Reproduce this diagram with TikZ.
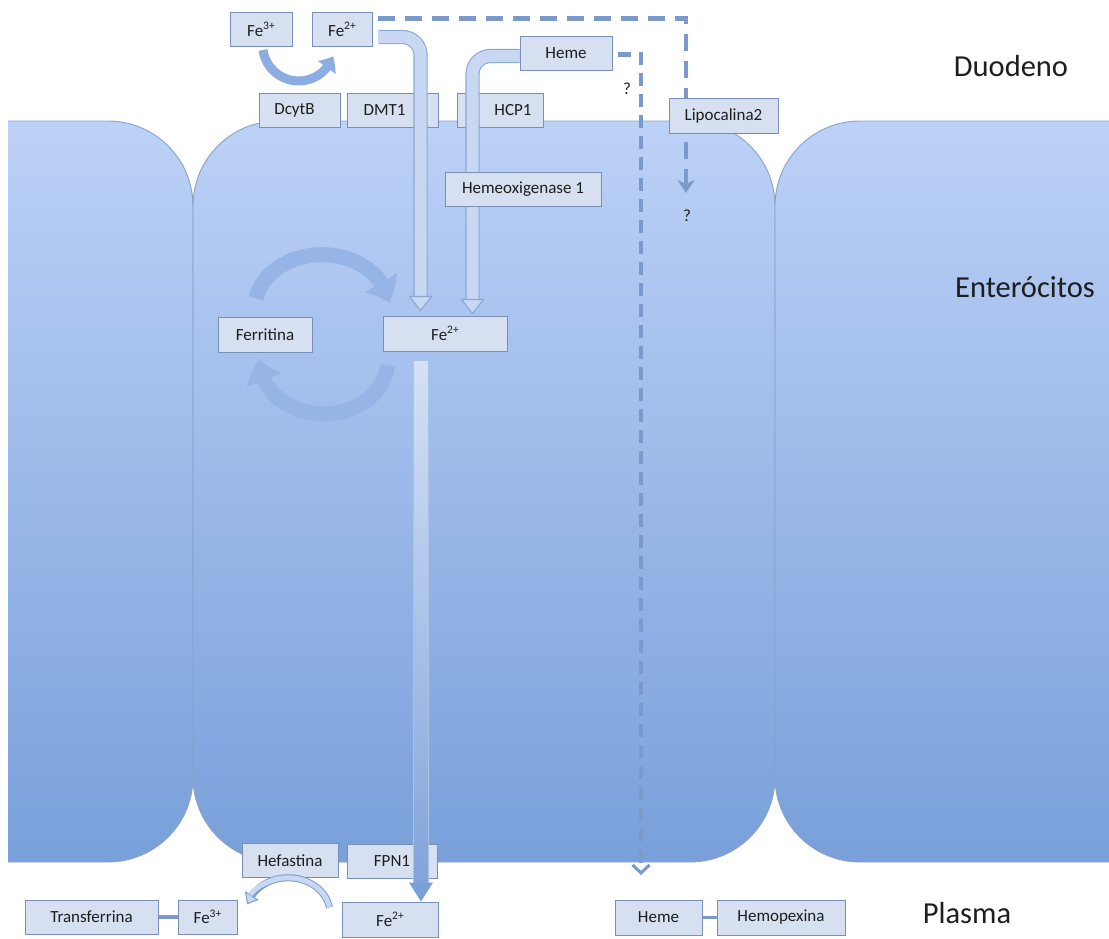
\documentclass[tikz,border=0pt]{standalone}
\usepackage{fontspec}
\setmainfont{Carlito}
\usetikzlibrary{arrows.meta,calc,bending}

\definecolor{cellTop}{HTML}{BCD1F7}
\definecolor{cellBottom}{HTML}{79A0DA}
\definecolor{cellEdge}{HTML}{8BA1C7}
\definecolor{boxFill}{HTML}{D6E0F0}
\definecolor{boxEdge}{HTML}{7890B8}
\definecolor{pipeEdge}{HTML}{8AA8D6}
\definecolor{pipeFill}{HTML}{C8D8F3}
\definecolor{dashBlue}{HTML}{7C99CB}
\definecolor{cycleBlue}{HTML}{96B4E6}
\definecolor{redoxBlue}{HTML}{8CADE2}
\definecolor{exportTop}{HTML}{D4E1F6}
\definecolor{exportBottom}{HTML}{82A4DA}
\definecolor{exportHead}{HTML}{7A9ED7}
\definecolor{hefEdge}{HTML}{7F9CCB}
\definecolor{hefFill}{HTML}{C9D8F2}
\definecolor{inkGray}{HTML}{1E1E1E}

% small raised charge label, e.g. Fe^{2+}
\newcommand\ionsup[1]{\raisebox{0.38em}{\fontsize{11.5}{11}\selectfont #1}}

\tikzset{
  cellshape/.style={top color=cellTop, bottom color=cellBottom, draw=cellEdge,
    line width=0.9pt, rounded corners=85pt},
  tagbox/.style={draw=boxEdge, line width=1pt, fill=boxFill, inner sep=0pt,
    minimum height=34pt, text=inkGray, font=\fontsize{17}{20}\selectfont},
  zonelabel/.style={anchor=base, text=inkGray, font=\fontsize{30.5}{36}\selectfont},
  qmark/.style={text=inkGray, font=\fontsize{17}{20}\selectfont},
  flowpipe/.style={draw=pipeEdge, line width=1.1pt, double=pipeFill,
    double distance=12pt, rounded corners=18pt},
  pipehead/.style={draw=pipeEdge, line width=1.1pt, fill=pipeFill, line join=round},
  cyclearc/.style={draw=cycleBlue, line width=15pt, -{Triangle[width=36pt,length=22pt,bend]}},
  redoxarc/.style={draw=redoxBlue, line width=9pt, -{Triangle[width=21pt,length=13pt,bend]}},
  dashroute/.style={draw=dashBlue, line width=4.5pt, dash pattern=on 17pt off 10pt},
  bondline/.style={draw=dashBlue, line width=3.5pt},
}

\begin{document}
\begin{tikzpicture}[x=1pt,y=-1pt]
\fill[white] (0,0) rectangle (1109,938);
\useasboundingbox (0,0) rectangle (1109,938);

% enterocyte cells
\begin{scope}
  \clip (8,0) rectangle (1109,938);
  \shade[cellshape] (-300,121) rectangle (193,862);
  \shade[cellshape] (193,121) rectangle (775,862);
  \shade[cellshape] (775,121) rectangle (1400,862);
\end{scope}

% compartment names
\node[zonelabel] (duodeno) at (1011,76) {Duodeno};
\node[zonelabel] (enterocitos) at (1025,297) {Enterócitos};
\node[zonelabel] (plasma) at (967,923) {Plasma};

% boxes
\node[tagbox, minimum width=81pt] (dcytb) at (299.5,110) {DcytB\hspace*{10pt}};
\node[tagbox, minimum width=91pt] (dmt1) at (392.5,110) {DMT1\hspace*{16pt}};
\node[tagbox, minimum width=86pt] (hcp1) at (500,110) {\hspace*{26pt}HCP1};
\node[tagbox, minimum width=62pt] (fe3top) at (261,29.5) {Fe\ionsup{3+}};
\node[tagbox, minimum width=60pt] (fe2top) at (342,29.5) {Fe\ionsup{2+}};
\node[tagbox, minimum width=92pt] (hemetop) at (566,53.5) {Heme};
\node[tagbox, minimum width=94pt, minimum height=35pt] (ferritina) at (265,334.5) {Ferritina};
\node[tagbox, minimum width=124pt, minimum height=35pt] (fe2mid) at (445,333.5) {Fe\ionsup{2+}};
\node[tagbox, minimum width=96pt] (hefastina) at (290,860.5) {Hefastina};
\node[tagbox, minimum width=90pt] (fpn1) at (392,861) {FPN1};
\node[tagbox, minimum width=133pt] (transferrina) at (91.5,917) {Transferrina};
\node[tagbox, minimum width=59pt] (fe3bot) at (207.5,917) {Fe\ionsup{3+}};
\node[tagbox, minimum width=96pt, minimum height=35pt] (fe2bot) at (390,919.5) {Fe\ionsup{2+}};
\node[tagbox, minimum width=87pt, minimum height=35pt] (hemebot) at (658.5,917.5) {Heme};
\node[tagbox, minimum width=128pt, minimum height=35pt] (hemopexina) at (781,917.5) {Hemopexina};

% dashed routes
\coordinate (lipoEnd) at (686,193);
\draw[dashroute, -{Stealth[width=17pt,length=13pt,inset=4pt]}]
  ($(fe2top.east)+(5,-11)$) -| (lipoEnd);
\coordinate (hemeOut) at (641,875);
\draw[dashroute, dash pattern=on 13pt off 8pt,
      -{Straight Barb[width=17pt,length=8pt,line width=3pt]}]
  ($(hemetop.east)+(5,1)$) -| (hemeOut);

\node[tagbox, minimum width=109pt, minimum height=35pt] (lipo) at (723.5,115.5) {Lipocalina2};
\node[qmark] (q1) at (627,89) {?};
\node[qmark] (q2) at (687,216) {?};

% uptake pipes into the cytosolic pool
\coordinate (dmtHead) at ($(fe2mid.north west)+(38,-19)$);
\coordinate (hcpHead) at ($(fe2mid.north west)+(90,-16)$);
\draw[flowpipe] ($(fe2top.east)+(6,7.5)$) -| (dmtHead);
\draw[flowpipe] ($(hemetop.west)+(0,2.5)$) -| (hcpHead);
\draw[pipehead] ($(dmtHead)+(-11,0)$) -- ($(dmtHead)+(11,0)$) -- ($(dmtHead)+(0,14)$) -- cycle;
\draw[pipehead] ($(hcpHead)+(-11,0)$) -- ($(hcpHead)+(11,0)$) -- ($(hcpHead)+(0,14)$) -- cycle;

\node[tagbox, minimum width=156pt] (hox) at (523,189) {Hemeoxigenase 1};

% ferritin storage cycle
\draw[cyclearc] ($(ferritina.north)+(-9,-18)$)
  arc[start angle=-170, end angle=-5, x radius=67, y radius=53];
\draw[cyclearc] ($(fe2mid.south west)+(5,14)$)
  arc[start angle=5, end angle=182, x radius=64, y radius=53];

% DcytB reduction
\draw[redoxarc] ($(fe3top.south)+(2,3)$) arc[start angle=172, end angle=18, radius=36];

% export through ferroportin
\shade[top color=exportTop, bottom color=exportBottom, draw=pipeEdge!70, line width=0.6pt]
  ($(fe2mid.south)+(-32,9)$) rectangle ($(fe2bot.north)+(38,-18)$);
\fill[exportHead] ($(fe2bot.north)+(19,-19)$) -- ($(fe2bot.north)+(43,-19)$)
  -- ($(fe2bot.north)+(31,0)$) -- cycle;

% hephaestin oxidation
\draw[draw=hefEdge, line width=7pt, -{Triangle[width=16pt,length=10pt,line width=1pt,fill=hefFill,bend]}]
  ($(fe2bot.north west)+(-12,6)$) arc[start angle=-10, end angle=-165, x radius=42, y radius=36];
\draw[draw=hefFill, line width=5pt, shorten >=10pt]
  ($(fe2bot.north west)+(-12,6)$) arc[start angle=-10, end angle=-165, x radius=42, y radius=36];

% plasma carriers
\draw[bondline] (transferrina.east) -- (fe3bot.west);
\draw[bondline] (hemebot.east) -- (hemopexina.west);
\end{tikzpicture}
\end{document}
